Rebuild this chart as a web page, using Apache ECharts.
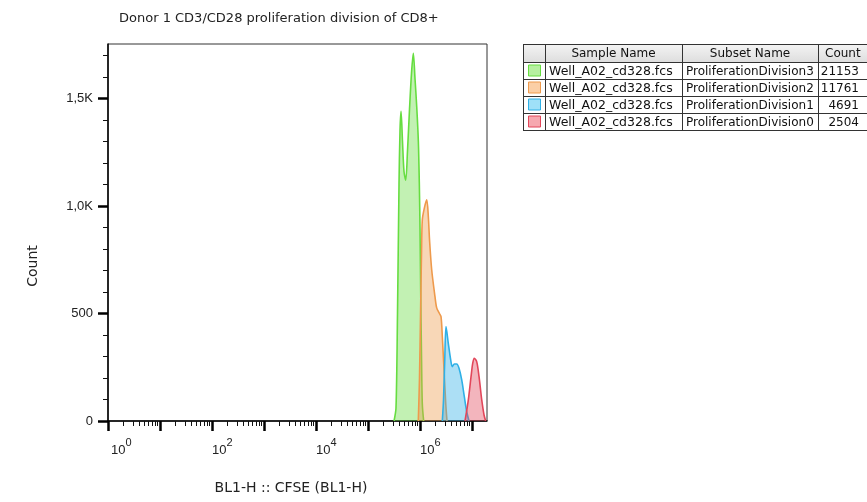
<!DOCTYPE html>
<html>
<head>
<meta charset="utf-8">
<title>Donor 1 CD3/CD28 proliferation division of CD8+</title>
<script src="https://cdn.jsdelivr.net/npm/echarts@6.0.0/dist/echarts.min.js"></script>
<style>
  html, body { margin: 0; padding: 0; background: #fff; }
  #chart { width: 867px; height: 502px; }
</style>
</head>
<body>
<div id="chart"></div>
<script>
var div3X = [5.500, 5.538, 5.567, 5.596, 5.615, 5.635, 5.663, 5.692, 5.725, 5.760, 5.798, 5.837, 5.871, 5.904, 5.937, 5.968, 5.987, 6.000, 6.013, 6.029, 6.044, 6.070];
var div3Y = [0, 60, 500, 1100, 1350, 1440, 1300, 1160, 1120, 1260, 1450, 1620, 1710, 1590, 1460, 1300, 1100, 890, 600, 300, 80, 0];

var div2X = [5.967, 5.990, 6.010, 6.029, 6.044, 6.083, 6.129, 6.160, 6.183, 6.225, 6.288, 6.321, 6.371, 6.404, 6.429, 6.462, 6.494, 6.519];
var div2Y = [0, 200, 500, 780, 935, 990, 1028, 950, 842, 702, 578, 526, 501, 485, 392, 237, 84, 0];

var div1X = [6.429, 6.452, 6.475, 6.500, 6.544, 6.590, 6.621, 6.660, 6.706, 6.750, 6.802, 6.852, 6.898, 6.942];
var div1Y = [0, 100, 280, 439, 361, 284, 253, 265, 265, 245, 191, 113, 43, 0];

var div0X = [6.865, 6.929, 6.981, 7.013, 7.044, 7.090, 7.135, 7.187, 7.231, 7.263];
var div0Y = [0, 98, 206, 268, 291, 276, 206, 98, 28, 0];

var sampleNames = ["Well_A02_cd328.fcs", "Well_A02_cd328.fcs", "Well_A02_cd328.fcs", "Well_A02_cd328.fcs"];
var subsetNames = ["ProliferationDivision3", "ProliferationDivision2", "ProliferationDivision1", "ProliferationDivision0"];
var subsetCounts = [21153, 11761, 4691, 2504];

var xMajorTicks = [0, 1, 2, 3, 4, 5, 6, 7];
var xLabelTicks = [0, 2, 4, 6];
var yMajorTicks = [0, 500, 1000, 1500];
var yMinorTicks = [100, 200, 300, 400, 600, 700, 800, 900, 1100, 1200, 1300, 1400, 1600, 1700];

(function () {
  var lineColors = ["#66dd40", "#ee9a4c", "#2fb0e6", "#e2465a"];
  var swatchFill = ["#b6f0a0", "#fbcfa6", "#9fe0f8", "#f6a8af"];
  var fontFamily = "'DejaVu Sans', sans-serif";
  var numFont = "'Liberation Sans', Arial, sans-serif";

  var X_MAX = 7.288;
  var Y_MAX = 1753;

  // log10 minor tick positions: 2..9 in every decade
  var xMinorTicks = [];
  for (var d = 0; d < 8; d++) {
    for (var k = 2; k <= 9; k++) {
      var v = d + Math.log10(k);
      if (v < X_MAX) xMinorTicks.push(v);
    }
  }

  function pairs(xs, ys) {
    var out = [];
    for (var i = 0; i < xs.length; i++) out.push([xs[i], ys[i]]);
    return out;
  }

  var seriesData = [pairs(div3X, div3Y), pairs(div2X, div2Y), pairs(div1X, div1Y), pairs(div0X, div0Y)];

  var series = seriesData.map(function (data, i) {
    return {
      type: "line",
      name: subsetNames[i],
      xAxisIndex: 0,
      yAxisIndex: 0,
      data: data,
      smooth: 0.3,
      showSymbol: false,
      symbol: "none",
      lineStyle: { color: lineColors[i], width: 1.6 },
      areaStyle: { color: lineColors[i], opacity: 0.4 },
      z: 2 + i
    };
  });

  // table on the right, built from the arrays above
  var tblTop = 44;
  var colX = [523, 545, 682, 818, 880];
  var rowH = [18, 17, 17, 17, 17];
  var graphics = [];
  var rowY = [tblTop];
  for (var r = 0; r < rowH.length; r++) rowY.push(rowY[r] + rowH[r]);
  var cellFont = "12px " + fontFamily;

  graphics.push({
    type: "rect",
    shape: { x: colX[0], y: rowY[0], width: colX[4] - colX[0], height: rowH[0] },
    style: {
      fill: new echarts.graphic.LinearGradient(0, 0, 0, 1, [
        { offset: 0, color: "#f4f4f4" },
        { offset: 1, color: "#dedede" }
      ])
    }
  });
  for (var h = 0; h < rowY.length; h++) {
    graphics.push({
      type: "line",
      shape: { x1: colX[0], y1: rowY[h] + 0.5, x2: colX[4], y2: rowY[h] + 0.5 },
      style: { stroke: "#333", lineWidth: 1 }
    });
  }
  for (var c = 0; c < 4; c++) {
    graphics.push({
      type: "line",
      shape: { x1: colX[c] + 0.5, y1: rowY[0], x2: colX[c] + 0.5, y2: rowY[rowY.length - 1] },
      style: { stroke: "#333", lineWidth: 1 }
    });
  }
  var headers = ["Sample Name", "Subset Name"];
  headers.forEach(function (t, i) {
    graphics.push({
      type: "text",
      style: {
        text: t, x: (colX[i + 1] + colX[i + 2]) / 2, y: rowY[0] + rowH[0] / 2 + 1,
        align: "center", verticalAlign: "middle", font: cellFont, fill: "#111"
      }
    });
  });
  graphics.push({
    type: "text",
    style: {
      text: "Count", x: 825, y: rowY[0] + rowH[0] / 2 + 1,
      align: "left", verticalAlign: "middle", font: cellFont, fill: "#111"
    }
  });
  for (var j = 0; j < subsetNames.length; j++) {
    var cy = rowY[j + 1] + rowH[j + 1] / 2 + 1;
    graphics.push({
      type: "rect",
      shape: { x: 528.5, y: cy - 6.5, width: 12, height: 11 },
      style: { fill: swatchFill[j], stroke: lineColors[j], lineWidth: 1 }
    });
    graphics.push({
      type: "text",
      style: { text: sampleNames[j], x: 549, y: cy, align: "left", verticalAlign: "middle", font: "12.5px " + fontFamily, fill: "#111" }
    });
    graphics.push({
      type: "text",
      style: { text: subsetNames[j], x: 686, y: cy, align: "left", verticalAlign: "middle", font: cellFont, fill: "#111" }
    });
    graphics.push({
      type: "text",
      style: { text: String(subsetCounts[j]), x: 859, y: cy, align: "right", verticalAlign: "middle", font: cellFont, fill: "#111" }
    });
  }

  // axis titles, placed as in the reference
  graphics.push({
    type: "text",
    x: 33, y: 266, rotation: Math.PI / 2,
    style: { text: "Count", align: "center", verticalAlign: "middle", font: "14px " + fontFamily, fill: "#222" }
  });
  graphics.push({
    type: "text",
    x: 291, y: 488,
    style: { text: "BL1-H :: CFSE (BL1-H)", align: "center", verticalAlign: "middle", font: "14px " + fontFamily, fill: "#222" }
  });

  var chart = echarts.init(document.getElementById("chart"), null, { renderer: "canvas" });

  chart.setOption({
    animation: false,
    backgroundColor: "#fff",
    title: {
      text: "Donor 1 CD3/CD28 proliferation division of CD8+",
      left: 114,
      top: 7,
      textStyle: { fontFamily: fontFamily, fontSize: 13, fontWeight: "normal", color: "#222" }
    },
    grid: {
      left: 108, top: 44, width: 379, height: 377,
      show: true, borderColor: "#333", borderWidth: 1, backgroundColor: "transparent"
    },
    xAxis: [
      {
        type: "value", min: 0, max: X_MAX, position: "bottom",
        axisLine: { show: true, onZero: false, lineStyle: { color: "#000", width: 1.5 } },
        axisTick: { show: true, customValues: xMajorTicks, length: 10, lineStyle: { color: "#000", width: 2.5 } },
        axisLabel: {
          show: true, customValues: xLabelTicks, align: "left", margin: 16,
          formatter: function (v) {
            return (v === 0 ? "{p|}" : "") + "{b|10}{s|" + Math.round(v) + "}";
          },
          rich: {
            p: { width: 3 },
            b: { fontFamily: numFont, fontSize: 13, color: "#222", verticalAlign: "bottom", lineHeight: 20 },
            s: { fontFamily: numFont, fontSize: 11, color: "#222", verticalAlign: "top", lineHeight: 20 }
          }
        },
        splitLine: { show: false }
      },
      {
        type: "value", min: 0, max: X_MAX, position: "bottom",
        axisLine: { show: false },
        axisTick: { show: true, customValues: xMinorTicks, length: 5, lineStyle: { color: "#111", width: 1 } },
        axisLabel: { show: false },
        splitLine: { show: false }
      }
    ],
    yAxis: [
      {
        type: "value", min: 0, max: Y_MAX, position: "left",
        axisLine: { show: true, onZero: false, lineStyle: { color: "#000", width: 1.5 } },
        axisTick: { show: true, customValues: yMajorTicks, length: 10, lineStyle: { color: "#000", width: 2.5 } },
        axisLabel: {
          show: true, customValues: yMajorTicks, margin: 15,
          fontFamily: numFont, fontSize: 13, color: "#222",
          formatter: function (v) {
            return v >= 1000 ? (v / 1000).toFixed(1).replace(".", ",") + "K" : String(v);
          }
        },
        splitLine: { show: false }
      },
      {
        type: "value", min: 0, max: Y_MAX, position: "left",
        axisLine: { show: false },
        axisTick: { show: true, customValues: yMinorTicks, length: 5, lineStyle: { color: "#111", width: 1 } },
        axisLabel: { show: false },
        splitLine: { show: false }
      }
    ],
    series: series,
    graphic: graphics
  });
})();
</script>
</body>
</html>
